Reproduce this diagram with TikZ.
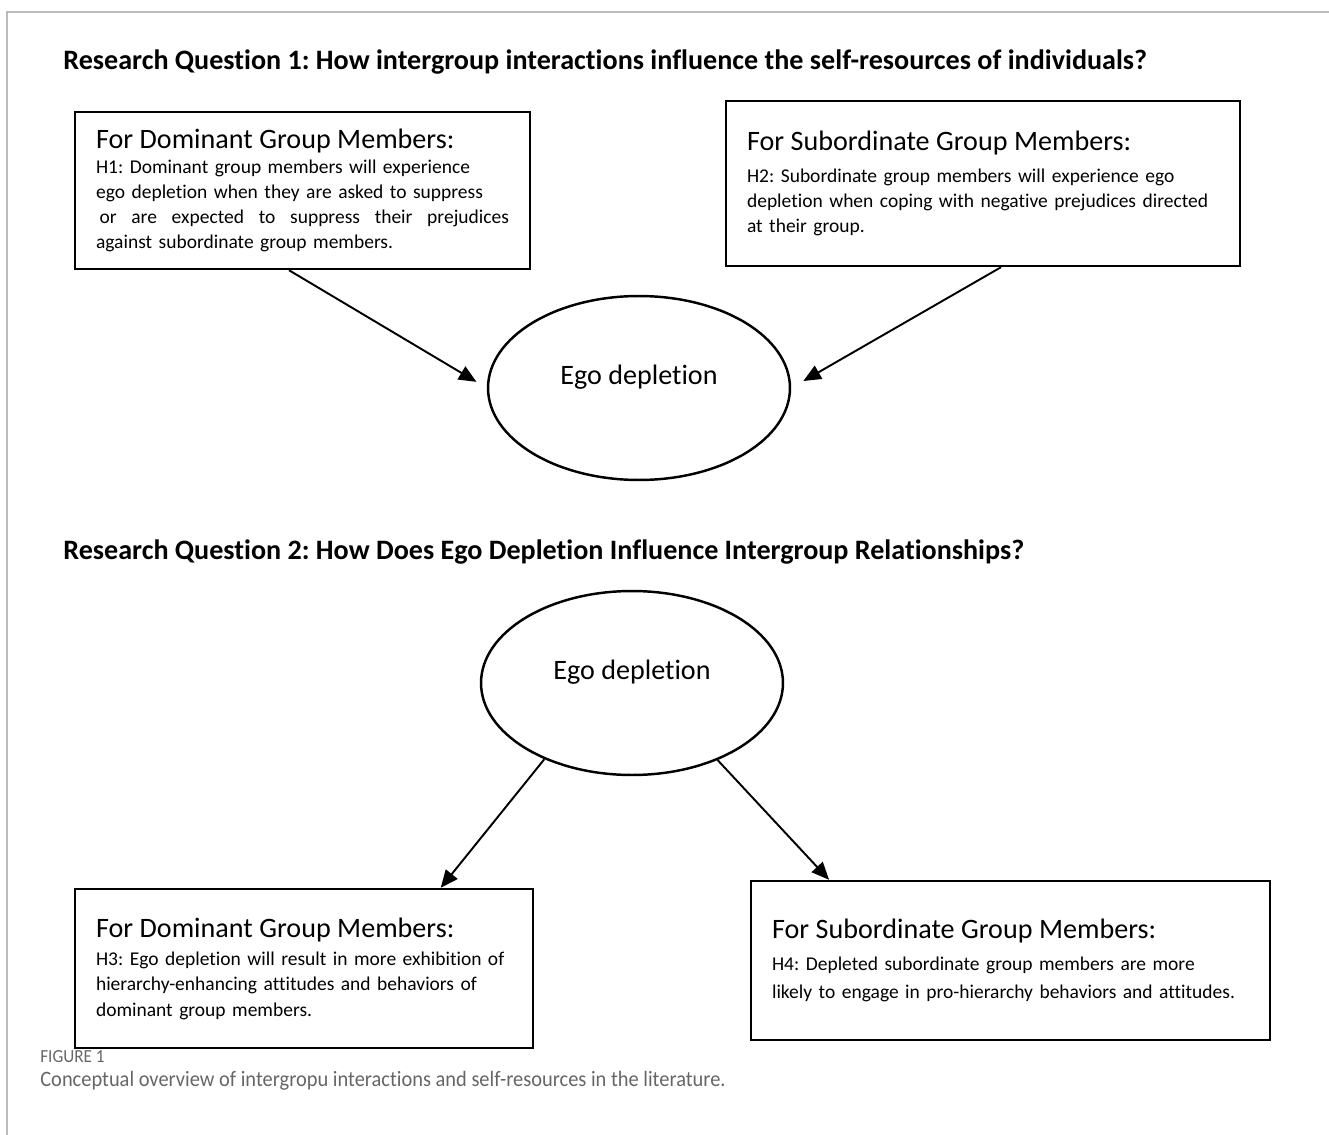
\documentclass[tikz,border=0pt]{standalone}
\usepackage{fontspec}
\setmainfont{Carlito}[Ligatures=NoCommon]
\newfontfamily\capfont{Carlito}[FakeStretch=0.93, Ligatures=NoCommon]
\usetikzlibrary{arrows.meta,shapes.geometric,calc}
\definecolor{framegray}{HTML}{BBBBBB}
\definecolor{capgray}{HTML}{666666}
\newcommand{\headfont}{\fontsize{16}{19}\selectfont}
\newcommand{\bodyfont}{\fontsize{11.1}{14.3}\selectfont}
\frenchspacing
\begin{document}
\begin{tikzpicture}[x=0.02cm, y=-0.02cm,
  every node/.style={font=\bodyfont},
  hypbox/.style={draw, line width=1.4pt, align=left, inner xsep=0.42cm, inner ysep=0pt},
  egonode/.style={draw, ellipse, line width=1.4pt, inner sep=0pt, minimum width=6.04cm, minimum height=3.68cm},
  rqtitle/.style={anchor=base west, inner sep=0pt, font=\fontsize{16}{18}\selectfont\bfseries},
  captext/.style={anchor=base west, inner sep=0pt, text=capgray},
  arr/.style={line width=1.1pt, -{Triangle[length=10pt,width=8.5pt]}}]
  \useasboundingbox (0,0) rectangle (1329,1135);
  \draw[framegray, line width=0.8pt] (1329,12) -- (7,12) -- (7,1135);

  % Research question 1
  \node[rqtitle] (rq1) at (63,70) {Research Question 1: How intergroup interactions influence the self-resources of individuals?};
  \node[hypbox, minimum width=9.1cm, minimum height=3.14cm, text width=8.26cm] (domA) at (302.5,190.5)
    {\rule{0pt}{0.1cm}{\headfont For Dominant Group Members:}\\[0pt]
     H1: Dominant group members will experience\\
     ego depletion when they are asked to suppress\\
     \makebox[8.26cm][l]{\kern2pt or\hfill are\hfill expected\hfill to\hfill suppress\hfill their\hfill prejudices}\\
     against subordinate group members.};
  \node[hypbox, minimum width=10.28cm, minimum height=3.3cm, text width=9.44cm] (subB) at (983,183.5)
    {{\headfont For Subordinate Group Members:}\\[4pt]
     H2: Subordinate group members will experience ego\\
     depletion when coping with negative prejudices directed\\
     at their group.};
  \node[egonode, label={[yshift=0.22cm, font=\headfont]center:Ego depletion}] (ego1) at (639,388) {};
  \draw[arr, shorten >=0.24cm] ([xshift=-0.27cm]domA.south) -- (ego1.west);
  \draw[arr, shorten >=0.28cm] ([xshift=0.36cm]subB.south) -- (ego1.east);

  % Research question 2
  \node[rqtitle] (rq2) at (63,559) {Research Question 2: How Does Ego Depletion Influence Intergroup Relationships?};
  \node[egonode, label={[yshift=0.22cm, font=\headfont]center:Ego depletion}] (ego2) at (632,683) {};
  \node[hypbox, minimum width=9.16cm, minimum height=3.18cm, text width=8.32cm] (domC) at (304,968.5)
    {{\headfont For Dominant Group Members:}\\[2pt]
     H3: Ego depletion will result in more exhibition of\\
     hierarchy-enhancing attitudes and behaviors of\\
     dominant group members.};
  \node[hypbox, minimum width=10.38cm, minimum height=3.18cm, text width=9.54cm] (subD) at (1010.5,960.5)
    {{\headfont For Subordinate Group Members:}\\[4pt]
     H4: Depleted subordinate group members are more\\[2pt]
     likely to engage in pro-hierarchy behaviors and attitudes.};
  \draw[arr] (ego2.-139) -- ($(domC.north west)!0.797!(domC.north east)$);
  \draw[arr] (ego2.-42) -- ($(subD.north west)!0.152!(subD.north east)$);

  % Caption
  \node[captext, font=\capfont\fontsize{10.5}{12}\selectfont] (figno) at (40,1062) {FIGURE 1};
  \node[captext, font=\capfont\fontsize{12.5}{15}\selectfont] (figcap) at (40,1086) {Conceptual overview of intergropu interactions and self-resources in the literature.};
\end{tikzpicture}
\end{document}
